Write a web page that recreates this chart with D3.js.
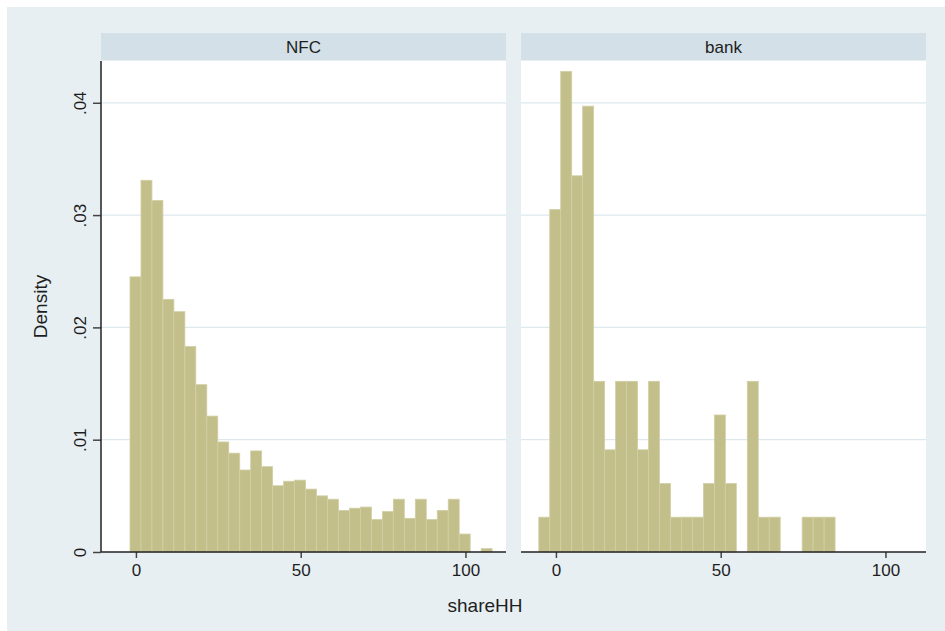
<!DOCTYPE html>
<html>
<head>
<meta charset="utf-8">
<script src="https://cdn.jsdelivr.net/npm/d3@7"></script>
<style>
  body { margin: 0; background: #ffffff; }
  text { font-family: "Liberation Sans", Arial, sans-serif; fill: #1e1e1e; }
</style>
</head>
<body>
<svg id="chart" width="945" height="631"></svg>
<script>
// histogram densities, one value per bin
const panels = ["NFC", "bank"];
const binWidth = 3.33;
const binStart = [-1.8, -5.2];
const nfcDensity = [0.0245, 0.0331, 0.0313, 0.0225, 0.0214, 0.0183, 0.0149, 0.0121, 0.0098, 0.0088,
  0.0073, 0.0090, 0.0076, 0.0059, 0.0063, 0.0064, 0.0056, 0.0050, 0.0047, 0.0037,
  0.0039, 0.0040, 0.0029, 0.0036, 0.0047, 0.0030, 0.0047, 0.0029, 0.0037, 0.0047,
  0.0016, 0.0000, 0.0003];
const bankDensity = [0.0031, 0.0305, 0.0428, 0.0335, 0.0397, 0.0152, 0.0091, 0.0152, 0.0152, 0.0091,
  0.0152, 0.0061, 0.0031, 0.0031, 0.0031, 0.0061, 0.0122, 0.0061, 0, 0.0152,
  0.0031, 0.0031, 0, 0, 0.0031, 0.0031, 0.0031];
const yTicks = [0, 0.01, 0.02, 0.03, 0.04];
const yTickLabels = ["0", ".01", ".02", ".03", ".04"];
const xTicks = [0, 50, 100];

const series = [nfcDensity, bankDensity];

let svg = d3.select("#chart");

// background of the whole graph
svg.append("rect")
  .attr("x", 7).attr("y", 7)
  .attr("width", 945 - 7).attr("height", 631 - 7)
  .attr("fill", "#e7eff2");

let panel_x = [101, 521];
let panel_w = 405;
let plot_top = 61;
let plot_bottom = 552;

let x_scale = d3.scaleLinear().domain([-10.6, 112.3]).range([0, panel_w]);
let y_scale = d3.scaleLinear().domain([0, 0.04372]).range([plot_bottom, plot_top]);

panels.forEach(function(name, p){
  let g = svg.append("g").attr("class", "panel")
    .attr("transform", "translate(" + panel_x[p] + ",0)");

  // strip header
  g.append("rect")
    .attr("x", 0).attr("y", 33)
    .attr("width", panel_w).attr("height", 27)
    .attr("fill", "#d3e0e7");
  g.append("text")
    .attr("x", panel_w / 2).attr("y", 53)
    .attr("text-anchor", "middle")
    .attr("font-size", 17)
    .text(name);

  // plot region
  g.append("rect")
    .attr("x", 0).attr("y", plot_top)
    .attr("width", panel_w).attr("height", plot_bottom - plot_top)
    .attr("fill", "#ffffff");

  // gridlines
  g.selectAll(".grid").data(yTicks.slice(1)).enter().append("line")
    .attr("class", "grid")
    .attr("x1", 0).attr("x2", panel_w)
    .attr("y1", d => y_scale(d)).attr("y2", d => y_scale(d))
    .attr("stroke", "#dde9ee").attr("stroke-width", 1.2);

  // bars
  let bins = series[p].map((d, i) => ({x0: binStart[p] + i * binWidth, x1: binStart[p] + (i + 1) * binWidth, v: d}));
  g.selectAll(".bar").data(bins.filter(d => d.v > 0)).enter().append("rect")
    .attr("class", "bar")
    .attr("x", d => x_scale(d.x0))
    .attr("width", d => x_scale(d.x1) - x_scale(d.x0))
    .attr("y", d => y_scale(d.v))
    .attr("height", d => plot_bottom - y_scale(d.v))
    .attr("fill", "#c3bf8b")
    .attr("stroke", "#d2cfa5").attr("stroke-width", 0.8);

  // x axis
  let x_axis = d3.axisBottom(x_scale).tickValues(xTicks).tickSize(6).tickPadding(6).tickFormat(d3.format("d"));
  let gx = g.append("g").attr("transform", "translate(0," + plot_bottom + ")").call(x_axis);
  gx.select(".domain").remove();
  gx.append("line").attr("x1", 0).attr("x2", panel_w).attr("y1", 0).attr("y2", 0)
    .attr("stroke", "#222").attr("stroke-width", 1.5);
  gx.selectAll(".tick line").attr("stroke", "#444").attr("stroke-width", 1.5);
  gx.selectAll(".tick text").attr("font-size", 17).attr("fill", "#1e1e1e")
    .attr("font-family", "'Liberation Sans', Arial, sans-serif");

  // y axis only on the first panel
  if (p === 0) {
    let y_axis = d3.axisLeft(y_scale).tickValues(yTicks).tickSize(8)
      .tickFormat((d, i) => yTickLabels[i]);
    let gy = g.append("g").call(y_axis);
    gy.select(".domain").remove();
    gy.append("line").attr("x1", 0).attr("x2", 0).attr("y1", plot_top).attr("y2", plot_bottom)
      .attr("stroke", "#222").attr("stroke-width", 1.5);
    gy.selectAll(".tick line").attr("stroke", "#444").attr("stroke-width", 1.5);
    gy.selectAll(".tick text")
      .attr("x", null).attr("dy", null)
      .attr("text-anchor", "middle")
      .attr("transform", "translate(-15,0) rotate(-90)")
      .attr("font-size", 17).attr("fill", "#1e1e1e")
      .attr("font-family", "'Liberation Sans', Arial, sans-serif");
  }
});

// axis titles
svg.append("text")
  .attr("transform", "translate(47," + ((plot_top + plot_bottom) / 2) + ") rotate(-90)")
  .attr("text-anchor", "middle")
  .attr("font-size", 19)
  .text("Density");

svg.append("text")
  .attr("x", 485).attr("y", 612)
  .attr("text-anchor", "middle")
  .attr("font-size", 19)
  .text("shareHH");
</script>
</body>
</html>
